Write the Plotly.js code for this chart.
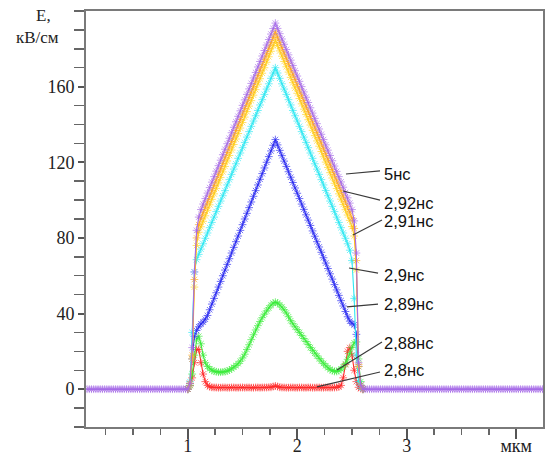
<!DOCTYPE html>
<html>
<head>
<meta charset="utf-8">
<script src="https://cdn.plot.ly/plotly-3.0.1.min.js"></script>
<style>html,body{margin:0;padding:0;background:#fff;}#chart{width:547px;height:461px;}</style>
</head>
<body>
<div id="chart"></div>
<script>
// ---- data (x in мкм, E in кВ/см) ----
const xLeft = [0.08,0.10,0.12,0.14,0.16,0.18,0.20,0.22,0.24,0.26,0.28,0.30,0.32,0.34,0.36,0.38,0.40,0.42,0.44,0.46,0.48,0.50,0.52,0.54,0.56,0.58,0.60,0.62,0.64,0.66,0.68,0.70,0.72,0.74,0.76,0.78,0.80,0.82,0.84,0.86,0.88,0.90,0.92,0.94,0.96,0.98];
const baseLeft = [0,0,0,0,0,0,0,0,0,0, 0,0,0,0,0,0,0,0,0,0, 0,0,0,0,0,0,0,0,0,0, 0,0,0,0,0,0,0,0,0,0, 0,0,0,0,0,0];
const xRight = [2.62,2.64,2.66,2.68,2.70,2.72,2.74,2.76,2.78,2.80,2.82,2.84,2.86,2.88,2.90,2.92,2.94,2.96,2.98,3.00,3.02,3.04,3.06,3.08,3.10,3.12,3.14,3.16,3.18,3.20,3.22,3.24,3.26,3.28,3.30,3.32,3.34,3.36,3.38,3.40,3.42,3.44,3.46,3.48,3.50,3.52,3.54,3.56,3.58,3.60,3.62,3.64,3.66,3.68,3.70,3.72,3.74,3.76,3.78,3.80,3.82,3.84,3.86,3.88,3.90,3.92,3.94,3.96,3.98,4.00,4.02,4.04,4.06,4.08,4.10,4.12,4.14,4.16,4.18,4.20,4.22,4.24];
const baseRight = [0,0,0,0,0,0,0,0,0,0, 0,0,0,0,0,0,0,0,0,0, 0,0,0,0,0,0,0,0,0,0, 0,0,0,0,0,0,0,0,0,0, 0,0,0,0,0,0,0,0,0,0, 0,0,0,0,0,0,0,0,0,0, 0,0,0,0,0,0,0,0,0,0, 0,0,0,0,0,0,0,0,0,0, 0,0];
const xLayer = [1.00,1.02,1.04,1.06,1.08,1.10,1.12,1.14,1.16,1.18,1.20,1.22,1.24,1.26,1.28,1.30,1.32,1.34,1.36,1.38,1.40,1.42,1.44,1.46,1.48,1.50,1.52,1.54,1.56,1.58,1.60,1.62,1.64,1.66,1.68,1.70,1.72,1.74,1.76,1.78,1.80,1.82,1.84,1.86,1.88,1.90,1.92,1.94,1.96,1.98,2.00,2.02,2.04,2.06,2.08,2.10,2.12,2.14,2.16,2.18,2.20,2.22,2.24,2.26,2.28,2.30,2.32,2.34,2.36,2.38,2.40,2.42,2.44,2.46,2.48,2.50,2.52,2.54,2.56,2.58,2.60];

const e5ns   = [0,3,22,62,84,91,95.0,97.9,100.8,103.7,106.6,109.5,112.4,115.3,118.2,121.1,124.0,126.9,129.8,132.7,135.6,138.5,141.4,144.3,147.2,150.1,153.0,155.9,158.8,161.7,164.6,167.5,170.4,173.3,176.2,179.1,182.0,184.9,187.8,190.7,193.6,190.8,188.0,185.2,182.4,179.6,176.8,174.0,171.2,168.4,165.6,162.8,160.0,157.2,154.4,151.6,148.8,146.0,143.2,140.4,137.6,134.8,132.0,129.2,126.4,123.6,120.8,118.0,115.2,112.4,109.6,106.8,104.0,101.2,98.4,95.0,89,72,14,2,0];
const e292ns = [0,3,18,58,80,87,90.4,93.3,96.2,99.1,102.0,104.9,107.8,110.7,113.6,116.5,119.4,122.3,125.2,128.1,131.0,133.9,136.8,139.7,142.6,145.5,148.4,151.3,154.2,157.1,160.0,162.9,165.8,168.7,171.6,174.5,177.4,180.3,183.2,186.1,189.0,186.2,183.4,180.6,177.8,175.0,172.2,169.4,166.6,163.8,161.0,158.2,155.4,152.6,149.8,147.0,144.2,141.4,138.6,135.8,133.0,130.2,127.4,124.6,121.8,119.0,116.2,113.4,110.6,107.8,105.0,102.2,99.4,96.6,93.8,90.5,85,68,13,2,0];
const e291ns = [0,3,16,54,76,83,85.9,88.8,91.7,94.6,97.5,100.4,103.3,106.2,109.1,112.0,114.9,117.8,120.7,123.6,126.5,129.4,132.3,135.2,138.1,141.0,143.9,146.8,149.7,152.6,155.5,158.4,161.3,164.2,167.1,170.0,172.9,175.8,178.7,181.6,184.5,181.7,178.9,176.1,173.3,170.5,167.7,164.9,162.1,159.3,156.5,153.7,150.9,148.1,145.3,142.5,139.7,136.9,134.1,131.3,128.5,125.7,122.9,120.1,117.3,114.5,111.7,108.9,106.1,103.3,100.5,97.7,94.9,92.1,89.3,86.0,81,63,12,2,0];
const e29ns  = [0,4,30,62,68.5,71.3,74.1,76.9,79.8,82.6,85.4,88.2,91.0,93.9,96.7,99.5,102.3,105.0,108.0,110.8,113.6,116.4,119.2,122.1,124.9,127.7,130.5,133.3,136.2,139.0,141.8,144.6,147.4,150.3,153.1,155.9,158.7,161.5,164.4,167.2,170.0,167.2,164.4,161.5,158.7,155.9,153.1,150.3,147.4,144.6,141.8,139.0,136.2,133.3,130.5,127.7,124.9,122.1,119.2,116.4,113.6,110.8,108.0,105.1,102.3,99.5,96.7,93.9,91.0,88.2,85.4,82.6,79.8,76.9,73.5,68,48,18,4,1,0];
const e289ns = [0,3,16,28,31,33,34.5,35.5,37.0,39.0,42.0,45.0,48.0,51.0,54.0,57.0,60.0,63.0,66.0,69.0,72.0,75.0,78.0,81.0,84.0,87.0,90.0,93.0,96.0,99.0,102.0,105.0,108.0,111.0,114.0,117.0,120.0,123.0,126.0,129.0,132.0,129.2,126.3,123.5,120.6,117.8,115.0,112.1,109.3,106.4,103.6,100.8,97.9,95.1,92.2,89.4,86.6,83.7,80.9,78.0,75.2,72.4,69.5,66.7,63.8,61.0,58.2,55.3,52.5,49.6,46.8,44.0,41.1,38.3,36.0,34.8,34.0,29,12,2,0];
const e288ns = [0,2,8,18,26,28,24,18,14,12,10.8,10.0,9.5,9.2,9.0,9.0,9.1,9.3,9.6,10.1,10.8,11.6,12.5,13.5,14.8,16.5,18.5,21.0,23.5,26.2,28.8,31.3,33.6,35.8,37.8,39.7,41.4,43.0,44.4,45.5,46.0,45.6,44.6,43.4,42.0,40.3,38.3,36.2,34.6,33.0,31.5,30.0,28.4,26.8,25.2,23.6,22.0,20.5,19.0,17.6,16.2,14.9,13.6,12.4,11.3,10.4,9.8,9.4,9.4,9.8,10.6,11.8,13.5,15.8,18.8,22.0,24.5,25.0,16,4,0];
const e28ns  = [0,2,6,14,21,21,14,8,4,2,1.3,1.0,0.9,0.9,0.8,0.8,0.9,0.9,0.8,0.8,0.9,0.9,0.8,0.8,0.9,0.9,0.8,0.9,0.9,0.8,0.8,0.9,0.9,0.8,0.9,0.9,0.9,1.0,1.0,1.4,1.7,1.4,1.0,0.9,0.9,0.8,0.8,0.9,0.9,0.8,0.8,0.9,0.9,0.8,0.8,0.9,0.9,0.8,0.8,0.9,0.9,0.8,0.8,0.9,0.9,0.8,0.9,0.9,1.0,1.2,2,6,13,20,22,18,10,4,1,0.3,0];

const seriesNames  = ['2,8нс','2,88нс','2,89нс','2,9нс','2,91нс','2,92нс','5нс'];
const seriesColors = ['#FF2A2A','#3CEB3C','#2B2BF0','#2EE8F2','#FFD21E','#FFA81E','#A66BE8'];

// label positions / leader lines (tip x, tip y, tail x, tail y, label y)
const labelTexts = ['5нс','2,92нс','2,91нс','2,9нс','2,89нс','2,88нс','2,8нс'];
const leaderTipX = [2.445,2.418,2.509,2.473,2.454,2.363,2.180];
const leaderTipY = [113.8,104.8,81.5,64.1,43.5,10.1,1.2];
const leaderEndX = [2.756,2.756,2.774,2.738,2.738,2.774,2.756];
const leaderEndY = [115.4,100.0,89.5,61.4,45.0,24.9,9.1];
const labelY     = [113.8,98.5,88.9,60.4,45.0,24.4,10.1];
const labelX = 2.775;

// ---- build traces ----
const layerSeries = [e28ns,e288ns,e289ns,e29ns,e291ns,e292ns,e5ns];
const traces = layerSeries.map((vals,i)=>{
  const last = i === layerSeries.length-1;
  return {
    type:'scatter', mode:'lines+markers', name:seriesNames[i],
    x: last ? xLeft.concat(xLayer, xRight) : xLayer,
    y: last ? baseLeft.concat(vals, baseRight) : vals,
    line:{color:seriesColors[i], width:1.1},
    marker:{symbol:'asterisk-open', size:6.5, color:seriesColors[i], opacity:0.85, line:{color:seriesColors[i], width:0.8}},
    hoverinfo:'skip', showlegend:false
  };
});

const shapes = labelTexts.map((t,i)=>({
  type:'line', xref:'x', yref:'y',
  x0:leaderTipX[i], y0:leaderTipY[i], x1:leaderEndX[i], y1:leaderEndY[i],
  line:{color:'#3a3a3a', width:1.2}
}));

const annotations = labelTexts.map((t,i)=>({
  text:t, x:labelX, y:labelY[i], xref:'x', yref:'y', xanchor:'left', yanchor:'middle',
  showarrow:false, font:{family:'Liberation Sans, Arial, sans-serif', size:16.5, color:'#111'}
}));
annotations.push({text:'Е,', xref:'paper', yref:'paper', x:-0.094, y:0.988, xanchor:'center', yanchor:'middle', showarrow:false,
  font:{family:'Liberation Serif, Times New Roman, serif', size:17, color:'#222'}});
annotations.push({text:'кВ/см', xref:'paper', yref:'paper', x:-0.107, y:0.9375, xanchor:'center', yanchor:'middle', showarrow:false,
  font:{family:'Liberation Serif, Times New Roman, serif', size:17, color:'#222'}});

const yMinor = [-20,-10,10,20,30,50,60,70,90,100,110,130,140,150,170,180,190,200];
const xMinor = [0.25,0.5,0.75,1.25,1.5,1.75,2.25,2.5,2.75,3.25,3.5,3.75,4.25];

const layout = {
  width:547, height:461,
  margin:{l:86, r:4, t:11, b:34},
  paper_bgcolor:'#fff', plot_bgcolor:'#fff',
  showlegend:false,
  font:{family:'Liberation Serif, Times New Roman, serif', size:18, color:'#222'},
  xaxis:{
    range:[0.07,4.245], showgrid:false, zeroline:false,
    showline:true, linecolor:'#7a7a7a', linewidth:2, mirror:true,
    tickmode:'array', tickvals:[1,2,3,4], ticktext:['1','2','3','мкм'],
    ticks:'outside', ticklen:10, tickwidth:2, tickcolor:'#555',
    ticklabelstandoff:-9,
    tickfont:{family:'Liberation Serif, Times New Roman, serif', size:18, color:'#222'},
    minor:{tickmode:'array', tickvals:xMinor, ticks:'outside', ticklen:6, tickwidth:1.5, tickcolor:'#666'}
  },
  yaxis:{
    range:[-20,200], showgrid:false, zeroline:false,
    showline:true, linecolor:'#7a7a7a', linewidth:2, mirror:true,
    tickmode:'array', tickvals:[0,40,80,120,160], ticktext:['0','40','80','120','160'],
    ticks:'outside', ticklen:6, tickwidth:2, tickcolor:'#555',
    tickfont:{family:'Liberation Serif, Times New Roman, serif', size:18, color:'#222'},
    minor:{tickmode:'array', tickvals:yMinor, ticks:'outside', ticklen:10, tickwidth:1.5, tickcolor:'#666'}
  },
  shapes:shapes,
  annotations:annotations
};

Plotly.newPlot('chart', traces, layout, {staticPlot:true, displayModeBar:false});
</script>
</body>
</html>
